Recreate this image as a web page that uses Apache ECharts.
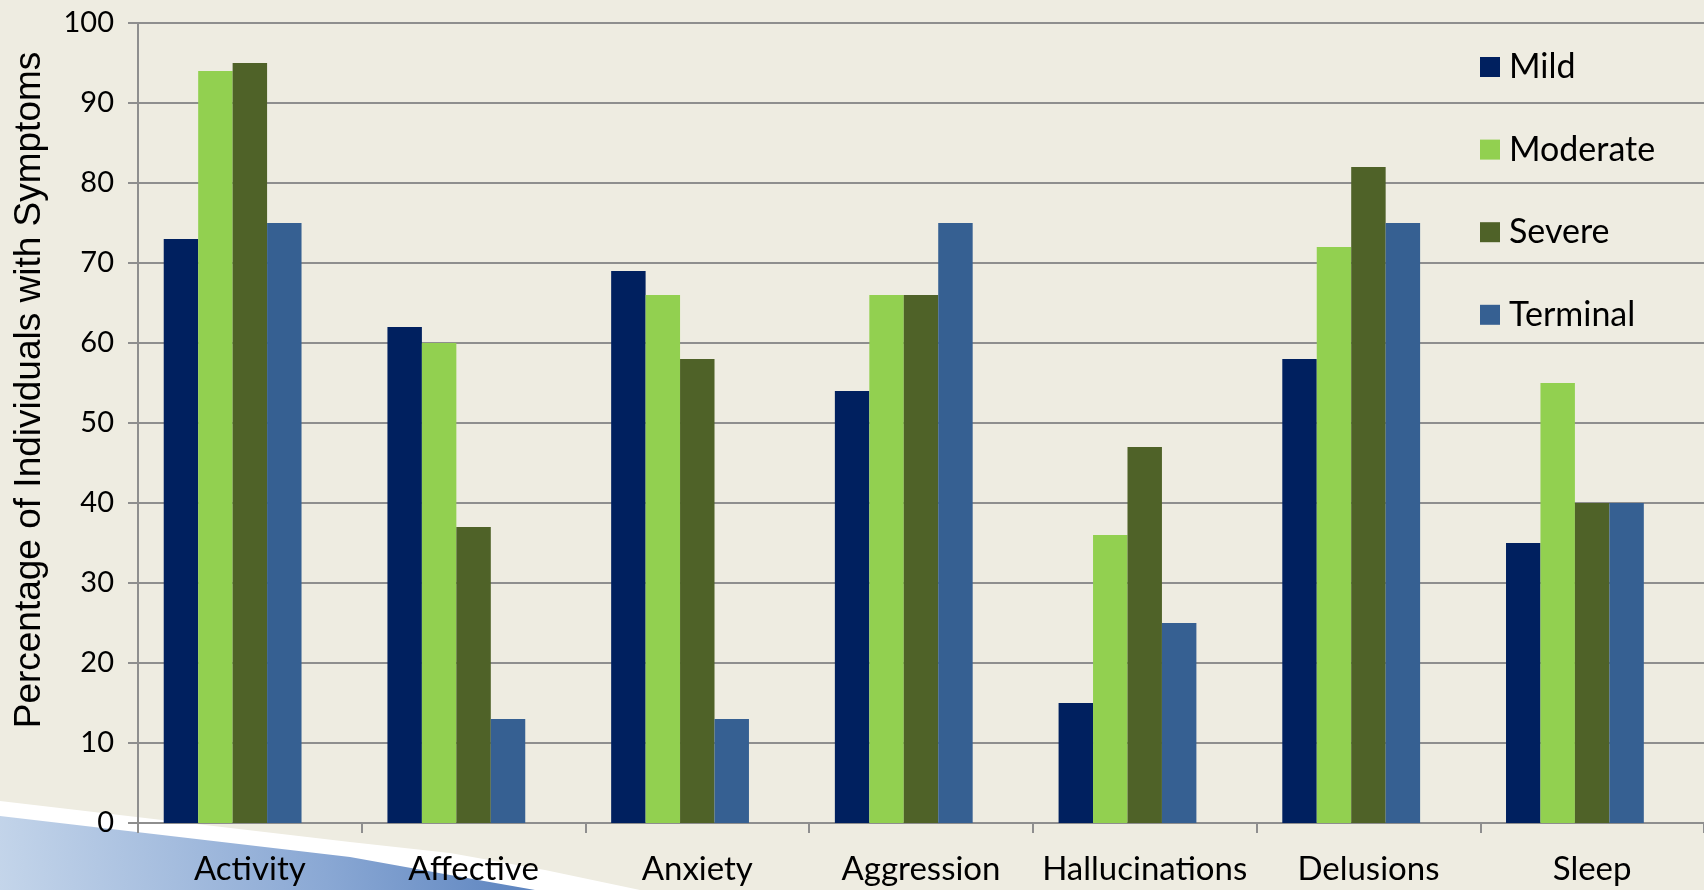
<!DOCTYPE html>
<html>
<head>
<meta charset="utf-8">
<title>Symptoms by Stage</title>
<script src="https://cdn.jsdelivr.net/npm/echarts@6/dist/echarts.min.js"></script>
<style>
  html, body { margin: 0; padding: 0; background: #EEECE1; }
  #chart { width: 1704px; height: 890px; }
</style>
</head>
<body>
<div id="chart"></div>
<script>
// Symptom domains along the x axis
const categories = ['Activity', 'Affective', 'Anxiety', 'Aggression', 'Hallucinations', 'Delusions', 'Sleep'];

// Percentage of individuals with symptoms, per disease stage
const mild     = [73, 62, 69, 54, 15, 58, 35];
const moderate = [94, 60, 66, 66, 36, 72, 55];
const severe   = [95, 37, 58, 66, 47, 82, 40];
const terminal = [75, 13, 13, 75, 25, 75, 40];

const stageNames = ['Mild', 'Moderate', 'Severe', 'Terminal'];
const stageValues = [mild, moderate, severe, terminal];
const stageColors = ['#00205F', '#92D050', '#4F6228', '#366092'];

const labelFont = 'Lato, "Open Sans", sans-serif';
const gridGray = '#8E8E8E';

const chart = echarts.init(document.getElementById('chart'), null, { renderer: 'canvas' });

const series = stageNames.map((name, i) => ({
  name: name,
  type: 'bar',
  data: stageValues[i],
  barGap: '0%',
  barCategoryGap: '23%',
  itemStyle: { color: stageColors[i] },
  z: 3
}));
// An empty fifth slot in each group, so the four bars sit left of the category centre
series.push({
  name: 'spare',
  type: 'bar',
  data: categories.map(() => null),
  barGap: '0%',
  barCategoryGap: '23%',
  itemStyle: { color: 'transparent' },
  silent: true
});

chart.setOption({
  backgroundColor: '#EEECE1',
  animation: false,
  // Slide decoration in the lower-left corner: white band over a blue wedge
  graphic: [
    {
      type: 'polygon',
      z: -10,
      silent: true,
      shape: { points: [[0, 801], [350, 842], [450, 853], [545, 870], [640, 890], [0, 890]] },
      style: { fill: '#FFFFFF' }
    },
    {
      type: 'polygon',
      z: -9,
      silent: true,
      shape: { points: [[0, 816], [350, 857], [450, 875], [535, 890], [0, 890]] },
      style: {
        fill: new echarts.graphic.LinearGradient(0, 1, 1, 0, [
          { offset: 0, color: '#C4D5EA' },
          { offset: 0.6, color: '#8AA8D4' },
          { offset: 1, color: '#5A82BE' }
        ])
      }
    }
  ],
  grid: { left: 138, right: 0, top: 23, bottom: 67, containLabel: false },
  legend: {
    data: stageNames,
    orient: 'vertical',
    left: 1480,
    top: 50,
    itemWidth: 20,
    itemHeight: 20,
    itemGap: 48.6,
    icon: 'rect',
    padding: 0,
    textStyle: {
      fontFamily: labelFont,
      fontSize: 34,
      color: '#000',
      lineHeight: 30,
      padding: [0, 0, 0, 4]
    }
  },
  xAxis: {
    type: 'category',
    data: categories,
    axisLine: { show: true, lineStyle: { color: gridGray, width: 2 } },
    axisTick: { show: true, length: 10, lineStyle: { color: gridGray, width: 2 } },
    axisLabel: {
      fontFamily: labelFont,
      fontSize: 33,
      color: '#000',
      margin: 30,
      interval: 0
    },
    splitLine: { show: false }
  },
  yAxis: {
    type: 'value',
    min: 0,
    max: 100,
    interval: 10,
    name: 'Percentage of Individuals with Symptoms',
    nameLocation: 'middle',
    nameRotate: 90,
    nameGap: 90,
    nameTextStyle: {
      fontFamily: '"Liberation Sans", Arial, sans-serif',
      fontSize: 37,
      color: '#000',
      padding: [0, 0, 0, 66]
    },
    axisLine: { show: true, lineStyle: { color: gridGray, width: 2 } },
    axisTick: { show: true, length: 10, lineStyle: { color: gridGray, width: 2 } },
    axisLabel: {
      fontFamily: labelFont,
      fontSize: 29,
      color: '#000',
      margin: 24
    },
    splitLine: { show: true, lineStyle: { color: gridGray, width: 2 } }
  },
  series: series
});
</script>
</body>
</html>
